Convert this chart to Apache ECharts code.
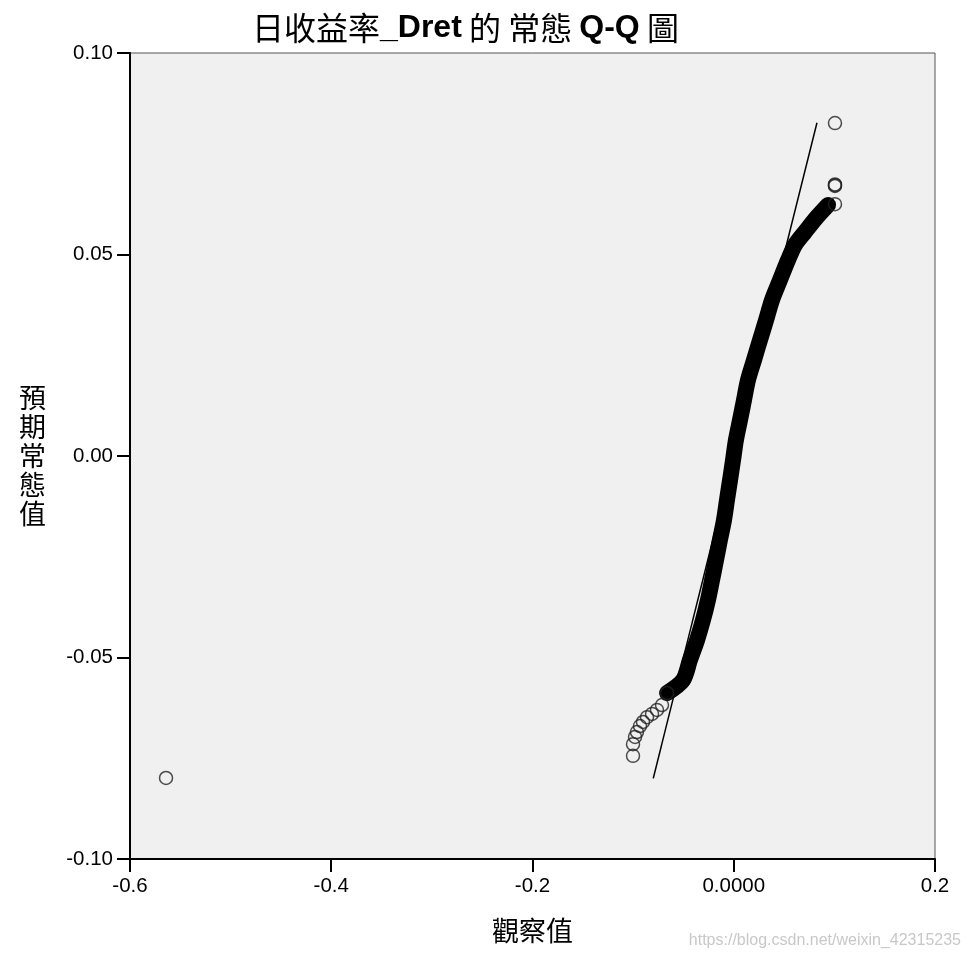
<!DOCTYPE html>
<html>
<head>
<meta charset="utf-8">
<script src="https://cdn.jsdelivr.net/npm/echarts@6/dist/echarts.min.js"></script>
<style>
  html, body { margin: 0; padding: 0; background: #fff; }
  #main { width: 969px; height: 959px; }
</style>
</head>
<body>
<div id="main"></div>
<script>
// 觀察值 / 預期常態值 along the dense part of the curve
var bandObserved = [-0.0663, -0.0504, -0.0435, -0.0365, -0.0306, -0.0256, -0.0216, -0.0176, -0.0137, -0.0097,
  -0.0067, -0.0037, -0.0007, 0.0022, 0.0062, 0.0102, 0.0142, 0.0201, 0.0261, 0.0321,
  0.0380, 0.0460, 0.0539, 0.0609, 0.0708, 0.0827, 0.0937];
var bandExpected = [-0.0588, -0.0556, -0.0506, -0.0457, -0.0407, -0.0357, -0.0308, -0.0258, -0.0208, -0.0159,
  -0.0109, -0.0060, -0.0010, 0.0040, 0.0089, 0.0139, 0.0189, 0.0238, 0.0288, 0.0337,
  0.0387, 0.0437, 0.0486, 0.0524, 0.0556, 0.0593, 0.0623];

// separate circles in the tails
var tailObserved = [-0.5642, -0.1001, -0.1001, -0.0981, -0.0962, -0.0932, -0.0902, -0.0862, -0.0812, -0.0763, -0.0713, -0.0663,
  0.1006, 0.1006, 0.1006, 0.1006, 0.1006];
var tailExpected = [-0.0799, -0.0744, -0.0715, -0.0697, -0.0685, -0.0670, -0.0660, -0.0648, -0.0640, -0.0630, -0.0618, -0.0588,
  0.0625, 0.0670, 0.0672, 0.0674, 0.0826];

// reference line (y = x)
var refLine = [[-0.0800, -0.0800], [0.0827, 0.0827]];

var xTicks = [-0.6, -0.4, -0.2, 0.0, 0.2];
var yTicks = [-0.10, -0.05, 0.00, 0.05, 0.10];

var bandData = bandObserved.map(function (v, i) { return [v, bandExpected[i]]; });
var tailData = tailObserved.map(function (v, i) { return [v, tailExpected[i]]; });

var chart = echarts.init(document.getElementById('main'));

var labelFont = { color: '#000', fontSize: 20.5, fontFamily: 'Liberation Sans, Arial, sans-serif' };

var option = {
  animation: false,
  backgroundColor: '#fff',
  title: {
    left: 247,
    top: 7,
    text: '{c|日收益率}{b|_Dret}{c| 的 常態 }{b|Q-Q}{c| 圖}',
    textStyle: {
      rich: {
        c: { fontSize: 32, fontFamily: 'Noto Sans CJK TC', fontWeight: 'normal', color: '#000' },
        b: { fontSize: 32, fontFamily: 'Liberation Sans', fontWeight: 'bold', color: '#000' }
      }
    }
  },
  grid: {
    left: 130,
    right: 34,
    top: 53,
    bottom: 100,
    show: true,
    backgroundColor: '#f0f0f0',
    borderColor: '#555',
    borderWidth: 1
  },
  xAxis: {
    type: 'value',
    min: xTicks[0],
    max: xTicks[xTicks.length - 1],
    interval: 0.2,
    name: '觀察值',
    nameLocation: 'middle',
    nameGap: 58,
    nameTextStyle: { fontSize: 27, fontFamily: 'Noto Sans CJK TC', color: '#000' },
    axisLine: { onZero: false, lineStyle: { color: '#000', width: 2 } },
    axisTick: { show: true, inside: false, length: 13, lineStyle: { color: '#000', width: 2 } },
    axisLabel: Object.assign({
      margin: 17,
      formatter: function (v) { return Math.abs(v) < 1e-9 ? '0.0000' : v.toFixed(1); }
    }, labelFont),
    splitLine: { show: false }
  },
  yAxis: {
    type: 'value',
    min: yTicks[0],
    max: yTicks[yTicks.length - 1],
    interval: 0.05,
    name: '預\n期\n常\n態\n值',
    nameLocation: 'middle',
    nameRotate: 0,
    nameGap: 84,
    nameTextStyle: { fontSize: 27, lineHeight: 29, fontFamily: 'Noto Sans CJK TC', color: '#000' },
    axisLine: { show: true, onZero: false, lineStyle: { color: '#000', width: 2 } },
    axisTick: { show: true, inside: false, length: 13, lineStyle: { color: '#000', width: 2 } },
    axisLabel: Object.assign({
      margin: 17,
      formatter: function (v) { return Math.abs(v) < 1e-9 ? '0.00' : v.toFixed(2); }
    }, labelFont),
    splitLine: { show: false }
  },
  series: [
    {
      name: 'band',
      type: 'line',
      data: bandData,
      showSymbol: false,
      smooth: 0.3,
      lineStyle: { color: '#000', width: 16, cap: 'round', join: 'round' },
      z: 2
    },
    {
      name: 'ref',
      type: 'line',
      data: refLine,
      showSymbol: false,
      lineStyle: { color: '#000', width: 1.5 },
      z: 3
    },
    {
      name: 'points',
      type: 'scatter',
      data: tailData,
      symbol: 'circle',
      symbolSize: 13,
      itemStyle: { color: 'rgba(0,0,0,0)', borderColor: '#222', borderWidth: 1.5 },
      z: 4
    }
  ],
  graphic: [
    {
      type: 'text',
      right: 8,
      top: 933,
      style: {
        text: 'https://blog.csdn.net/weixin_42315235',
        fill: '#c8c8c8',
        fontSize: 16,
        fontFamily: 'Liberation Sans, Arial, sans-serif'
      }
    }
  ]
};

chart.setOption(option);
</script>
</body>
</html>
